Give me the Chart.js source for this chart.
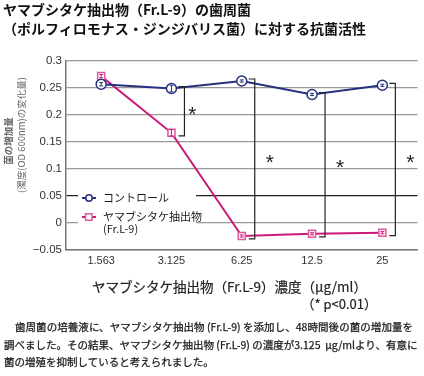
<!DOCTYPE html>
<html>
<head>
<meta charset="utf-8">
<script src="https://cdn.jsdelivr.net/npm/chart.js@4"></script>
<style>
  body { margin: 0; background: #fff; font-family: "Noto Sans CJK JP", sans-serif; color: #222; }
  #wrap { position: relative; width: 424px; height: 376px; overflow: hidden; }
  #chart { position: absolute; left: 0; top: 0; }
  .title { position: absolute; left: 3px; top: 0; font-size: 14px; font-weight: bold; line-height: 19px; color: #111; white-space: nowrap; }
  .xtitle { position: absolute; left: 92px; top: 276px; font-size: 13.5px; color: #222; white-space: nowrap; -webkit-text-stroke: 0.2px #222; }
  .pval { position: absolute; right: 47px; top: 294px; font-size: 13px; color: #222; white-space: nowrap; -webkit-text-stroke: 0.2px #222; }
  .note { position: absolute; left: 4px; top: 318px; width: 409px; font-size: 10.5px; line-height: 17.5px; color: #1a1a1a; -webkit-text-stroke: 0.25px #1a1a1a; }
  .note div { text-align: justify; text-align-last: justify; white-space: nowrap; }
  .note div.last { text-align-last: left; }
</style>
</head>
<body>
<div id="wrap">
  <canvas id="chart" width="424" height="376"></canvas>
  <div class="title">ヤマブシタケ抽出物（Fr.L-9）の歯周菌<br>（ポルフィロモナス・ジンジバリス菌）に対する抗菌活性</div>
  <div class="xtitle">ヤマブシタケ抽出物（Fr.L-9）濃度（μg/ml）</div>
  <div class="pval">（* p&lt;0.01）</div>
  <div class="note">
    <div style="padding-left:11px">歯周菌の培養液に、ヤマブシタケ抽出物 (Fr.L-9) を添加し、48時間後の菌の増加量を</div>
    <div>調べました。その結果、ヤマブシタケ抽出物 (Fr.L-9) の濃度が3.125 &nbsp;μg/mlより、有意に</div>
    <div class="last">菌の増殖を抑制していると考えられました。</div>
  </div>
</div>
<script>
// data
const categories = ['1.563', '3.125', '6.25', '12.5', '25'];
const controlValues = [0.257, 0.249, 0.263, 0.238, 0.255];
const controlErr = [0.003, 0.006, 0.002, 0.002, 0.002];
const extractValues = [0.272, 0.167, -0.024, -0.020, -0.018];
const extractErr = [0.003, 0.006, 0.002, 0.002, 0.002];
const significant = [1, 2, 3, 4];   // indexes with * p<0.01

const controlColor = '#26317f';
const extractColor = '#cc1a78';

// white box under the legend, hides the grid lines there
const legendMask = {
  id: 'legendMask',
  beforeDatasetsDraw(chart) {
    const ctx = chart.ctx;
    ctx.save();
    ctx.fillStyle = '#fff';
    ctx.fillRect(78, 186, 118, 56);
    ctx.restore();
  }
};

// small error bars
const errorBars = {
  id: 'errorBars',
  afterDatasetsDraw(chart) {
    const ctx = chart.ctx;
    const y = chart.scales.y;
    const errs = [controlErr, extractErr];
    chart.data.datasets.forEach((ds, d) => {
      const meta = chart.getDatasetMeta(d);
      ctx.save();
      ctx.strokeStyle = ds.borderColor;
      ctx.lineWidth = 1;
      meta.data.forEach((pt, i) => {
        const v = ds.data[i];
        const top = y.getPixelForValue(v + errs[d][i]);
        const bot = y.getPixelForValue(v - errs[d][i]);
        ctx.beginPath();
        ctx.moveTo(pt.x, top); ctx.lineTo(pt.x, bot);
        ctx.moveTo(pt.x - 2, top); ctx.lineTo(pt.x + 2, top);
        ctx.moveTo(pt.x - 2, bot); ctx.lineTo(pt.x + 2, bot);
        ctx.stroke();
      });
      ctx.restore();
    });
  }
};

// significance brackets, legend and y title
const extras = {
  id: 'extras',
  afterDraw(chart) {
    const ctx = chart.ctx;
    const x = chart.scales.x;
    const y = chart.scales.y;
    ctx.save();

    // brackets
    ctx.strokeStyle = '#222';
    ctx.lineWidth = 1.2;
    ctx.fillStyle = '#222';
    ctx.font = '21px "Liberation Sans"';
    ctx.textAlign = 'center';
    ctx.textBaseline = 'middle';
    significant.forEach(i => {
      const bx = x.getPixelForValue(i) + 13;
      const t = y.getPixelForValue(controlValues[i]) - 2;
      const b = y.getPixelForValue(extractValues[i]) + 3;
      ctx.beginPath();
      ctx.moveTo(bx - 6, t); ctx.lineTo(bx, t); ctx.lineTo(bx, b); ctx.lineTo(bx - 6, b);
      ctx.stroke();
      const off = i === 1 ? 8 : 15;
      ctx.fillText('*', bx + off, (t + b) / 2 + 4);
    });

    // legend
    const items = [
      { ds: chart.data.datasets[0], y: 198, lines: ['コントロール'] },
      { ds: chart.data.datasets[1], y: 217, lines: ['ヤマブシタケ抽出物', '(Fr.L-9)'] }
    ];
    ctx.textAlign = 'left';
    ctx.font = '11px "Noto Sans CJK JP"';
    items.forEach(it => {
      const ds = it.ds;
      ctx.strokeStyle = ds.borderColor;
      ctx.lineWidth = 2;
      ctx.beginPath();
      ctx.moveTo(82, it.y); ctx.lineTo(96, it.y);
      ctx.stroke();
      ctx.fillStyle = '#fff';
      ctx.strokeStyle = ds.pointBorderColor;
      ctx.lineWidth = 1.5;
      ctx.beginPath();
      if (ds.pointStyle === 'circle') {
        ctx.arc(89, it.y, 3.2, 0, Math.PI * 2);
      } else {
        ctx.rect(85.5, it.y - 3.2, 6.5, 6.5);
      }
      ctx.fill();
      ctx.stroke();
      ctx.fillStyle = '#1a1a1a';
      it.lines.forEach((l, k) => ctx.fillText(l, 103, it.y + k * 12));
    });

    // y axis title
    ctx.fillStyle = '#666';
    ctx.font = 'bold 9.5px "Noto Sans CJK JP"';
    ctx.textAlign = 'center';
    ctx.save();
    ctx.translate(8, 141);
    ctx.rotate(-Math.PI / 2);
    ctx.fillText('菌の増加量', 0, 0);
    ctx.restore();
    ctx.save();
    ctx.translate(21, 135);
    ctx.rotate(-Math.PI / 2);
    ctx.font = '9.5px "Noto Sans CJK JP"';
    ctx.fillText('(濁度(OD 600nm)の変化量)', 0, 0);
    ctx.restore();
    ctx.restore();
  }
};

new Chart(document.getElementById('chart'), {
  type: 'line',
  data: {
    labels: categories,
    datasets: [{
      label: 'コントロール',
      data: controlValues,
      borderColor: controlColor,
      borderWidth: 2,
      pointStyle: 'circle',
      pointRadius: 5,
      pointBackgroundColor: '#fff',
      pointBorderColor: controlColor,
      pointBorderWidth: 1.5
    }, {
      label: 'ヤマブシタケ抽出物 (Fr.L-9)',
      data: extractValues,
      borderColor: extractColor,
      borderWidth: 2,
      pointStyle: 'rect',
      pointRadius: 5,
      pointBackgroundColor: '#fff',
      pointBorderColor: '#e0579a',
      pointBorderWidth: 1.5
    }]
  },
  options: {
    responsive: false,
    animation: false,
    devicePixelRatio: 1,
    layout: { padding: { top: 61, right: 5, bottom: 104, left: 0 } },
    plugins: {
      legend: { display: false },
      tooltip: { enabled: false }
    },
    scales: {
      x: {
        offset: true,
        grid: { display: false, drawTicks: false },
        border: { color: '#777', width: 1.5 },
        ticks: { color: '#333', font: { family: 'Liberation Sans', size: 11 }, padding: 4, maxRotation: 0 },
        afterFit(scale) { scale.height = 22; }
      },
      y: {
        min: -0.05,
        max: 0.3,
        grid: {
          drawTicks: false,
          lineWidth: 1.3,
          color: c => (c.tick && (c.tick.value === 0 || Math.abs(c.tick.value - 0.05) < 1e-6)) ? '#222' : '#999'
        },
        border: { color: '#777', width: 1.5 },
        ticks: {
          stepSize: 0.05,
          color: '#333',
          padding: 4,
          font: { family: 'Liberation Sans', size: 11.5 },
          callback: v => {
            const r = Math.round(v * 100) / 100;
            return r < 0 ? '−' + String(-r) : String(r);
          }
        },
        afterFit(scale) { scale.width = 66; }
      }
    }
  },
  plugins: [legendMask, errorBars, extras]
});
</script>
</body>
</html>
